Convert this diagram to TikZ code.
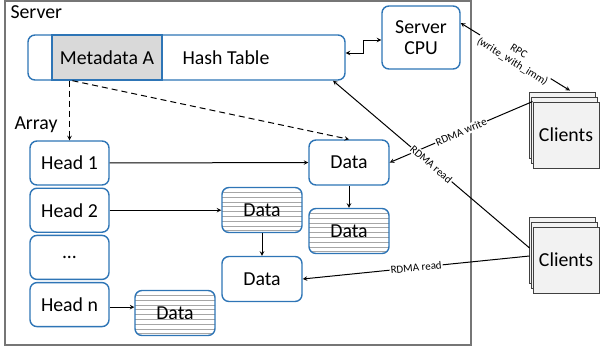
\documentclass[tikz,border=0pt]{standalone}
\usepackage{fontspec}
\setmainfont{Carlito}
\usepackage{xcolor}
\usepackage{tikz}
\usetikzlibrary{arrows, shapes, shadows}
\usetikzlibrary{calc, positioning}

\definecolor{boxblue}{RGB}{46,117,182}
\definecolor{metagray}{RGB}{217,217,217}
\definecolor{clientgray}{RGB}{242,242,242}
\definecolor{servergray}{RGB}{118,118,118}

\tikzset{
    blk/.style={draw=boxblue, line width=1.4pt, rounded corners=7pt, fill=white, inner sep=0pt,
        font=\fontsize{19.8}{21.5}\selectfont, minimum width=79pt, minimum height=44pt},
    dbox/.style={blk, minimum width=80pt, minimum height=45pt},
    striped/.style={path picture={
        \foreach \i in {1,...,9}
            \draw[black!35, line width=0.7pt] ([yshift=-\i*4.8pt]path picture bounding box.north west) -- ++(90pt,0);}},
    conn/.style={line width=1pt, ->},
    ptr/.style={conn, dash pattern=on 6pt off 4pt},
    lbl/.style={sloped, fill=white, inner sep=1pt, align=center, font=\fontsize{11}{12}\selectfont},
    client/.style={draw=black!75, fill=clientgray, line width=0.9pt, minimum width=66pt, minimum height=66pt,
        inner sep=0pt, font=\fontsize{19.8}{21.5}\selectfont,
        double copy shadow={shadow xshift=-1.7pt, shadow yshift=5pt, draw=black!75, fill=clientgray}}
}

\begin{document}
\begin{tikzpicture}[x=1pt, y=-1pt, >=stealth, font=\fontsize{19.8}{21.5}\selectfont]
    %\draw[step=50pt, gray, very thin] (0,0) grid (600,349);
    \useasboundingbox (0,0) rectangle (600,349);

    \draw[color=servergray, line width=1.3pt] (5,1) rectangle (471,345);
    \node[anchor=base west] (srv) at (7,18) {Server};
    \node[anchor=base west] (arr) at (11,129) {Array};

    % hash table and cpu
    \node[blk, minimum width=317pt, minimum height=45pt] (ht) at (186.5,57.5) {};
    \node[draw=boxblue, line width=1.4pt, fill=metagray, minimum width=110pt, minimum height=45pt, inner sep=0pt] (meta) at (107,57.5) {Metadata A};
    \node (htlbl) at (226,58) {Hash Table};
    \node[blk, minimum width=78pt, minimum height=63pt, align=center] (cpu) at (421,37.5) {Server\\CPU};

    % heads
    \node[blk] (h1) at (69.5,163) {Head 1};
    \node[blk, below=1.8pt of h1] (h2) {Head 2};
    \node[blk, below=1.8pt of h2] (hd) {...};
    \node[blk, below=1.8pt of hd] (hn) {Head n};

    % data
    \node[dbox] (d1) at (349,162.5) {Data};
    \node[dbox, striped] (d2) at (349,231) {Data};
    \node[dbox, striped] (d3) at (262,210) {Data};
    \node[dbox] (d4) at (262,279) {Data};
    \node[dbox, striped] (d5) at (175,313) {Data};

    % clients
    \node[client] (c1) at (566,135) {Clients};
    \node[client] (c2) at (566,260) {Clients};

    \draw[conn, <->] ($(ht.east)+(0,-4.5)$) -- ++(18,0) |- ($(cpu.west)+(0,2.5)$);
    \draw[ptr] (h1 |- meta.south) -- (h1.north);
    \draw[ptr] ($(h1 |- meta.south)+(3,0)$) -- (d1.north);

    \draw[conn] (h1) -- (d1);
    \draw[conn] (h2.east) -- (h2.east -| d3.west);
    \draw[conn] ($(hn.east)+(0,2.5)$) -- ($(hn.east -| d5.west)+(0,2.5)$);
    \draw[conn] (d1) -- (d2);
    \draw[conn] (d3) -- (d4);

    \draw[conn, <->] (cpu.20) -- node[lbl] {RPC\\(write\_with\_imm)} ($(c1.north)+(4,-11)$);
    \draw[conn] (c1.north west) -- node[lbl] {RDMA write} (d1.east);
    \draw[conn] ($(c2.west)+(-3,-12)$) -- node[lbl] {RDMA read} (ht.-9);
    \draw[conn] ($(c2.west)+(-3,-4)$) -- node[lbl] {RDMA read} (d4.east);

\end{tikzpicture}
\end{document}
